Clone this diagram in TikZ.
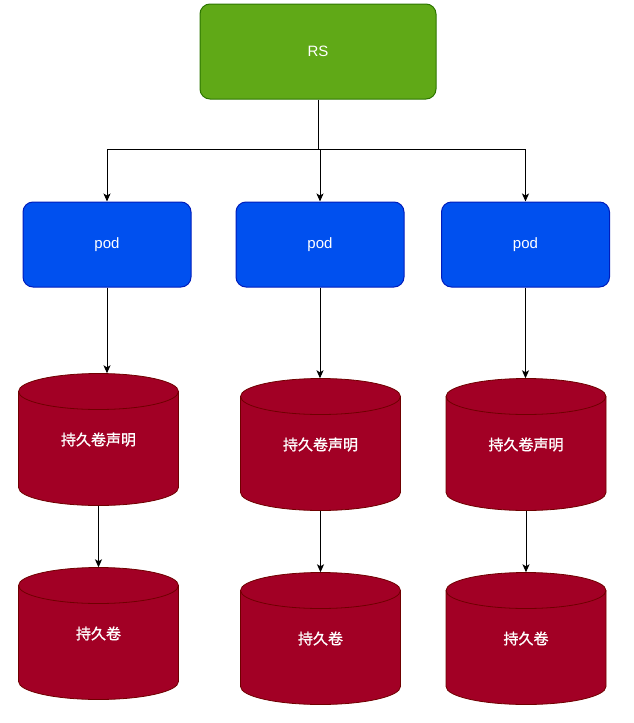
\documentclass[tikz,border=0pt]{standalone}
\usepackage{fontspec}
\setmainfont{Liberation Sans}
\newfontfamily\cjk[AutoFakeBold=1.0]{Noto Sans CJK SC}
\usetikzlibrary{arrows.meta}
\definecolor{rsfill}{HTML}{60A917}
\definecolor{rsline}{HTML}{2D7600}
\definecolor{podfill}{HTML}{0050EF}
\definecolor{podline}{HTML}{001DBC}
\definecolor{cylfill}{HTML}{A20025}
\definecolor{cylline}{HTML}{6F0000}
\tikzset{
  rsbox/.style={draw=rsline, fill=rsfill, rounded corners=10pt, line width=1pt,
    minimum width=236pt, minimum height=95pt, inner sep=0pt, text=white, font=\fontsize{15}{17}\selectfont},
  podbox/.style={draw=podline, fill=podfill, rounded corners=10pt, line width=1pt,
    minimum width=168pt, minimum height=85pt, inner sep=0pt, text=white, font=\fontsize{15}{17}\selectfont},
  cyltext/.style={minimum width=160pt, minimum height=132pt, inner sep=0pt, text=white,
    font=\fontsize{15}{17}\cjk\bfseries},
  cylshape/.style={draw=cylline, fill=cylfill, line width=0.8pt},
  arr/.style={draw=black, line width=1pt, -{Stealth[length=8pt,width=7pt,inset=2pt]}}
}
% #1 name, #2 cx, #3 cy, #4 text
\newcommand\mycyl[4]{%
  \path[cylshape] (#2-80,#3-66+18) -- (#2-80,#3+66-18) arc (180:0:80 and 18)
     -- (#2+80,#3-66+18) arc (0:-180:80 and 18) -- cycle;
  \draw[draw=cylline, line width=0.8pt] (#2-80,#3-66+18) arc (180:0:80 and 18);
  \node[cyltext] (#1) at (#2,#3) {#4};
}
\begin{document}
\begin{tikzpicture}[x=1pt,y=-1pt]
\useasboundingbox (0,0) rectangle (633,723);
\node[rsbox] (rs) at (318,51.5) {RS};
\node[podbox] (p1) at (107,244.5) {pod};
\node[podbox] (p2) at (320,244.5) {pod};
\node[podbox] (p3) at (525.5,244.5) {pod};
\mycyl{c1}{98.5}{439.5}{持久卷声明}
\mycyl{c2}{320.5}{444.5}{持久卷声明}
\mycyl{c3}{526}{444.5}{持久卷声明}
\mycyl{d1}{98.5}{633.5}{持久卷}
\mycyl{d2}{320.5}{638.5}{持久卷}
\mycyl{d3}{526}{638.5}{持久卷}
\coordinate (j) at (318,149);
\draw[line width=1pt] (rs.south) -- (j);
\draw[arr] (j) -| (p1.north);
\draw[arr] (j) -| (p2.north);
\draw[arr] (j) -| (p3.north);
\draw[arr] (p1.south) -- (p1.south |- c1.north);
\draw[arr] (p2.south) -- (p2.south |- c2.north);
\draw[arr] (p3.south) -- (p3.south |- c3.north);
\draw[arr] (c1.south) -- (d1.north);
\draw[arr] (c2.south) -- (d2.north);
\draw[arr] (c3.south) -- (d3.north);
\end{tikzpicture}
\end{document}
